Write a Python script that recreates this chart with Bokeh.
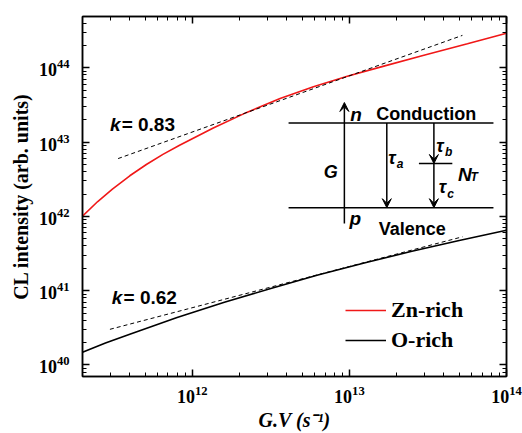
from bokeh.plotting import figure
from bokeh.models import (LogAxis, FixedTicker, Label, Arrow, VeeHead, Legend, LegendItem,
                          CustomJSTickFormatter)
from bokeh.embed import file_html
from bokeh.resources import INLINE

# ---- data ----
gv_zn = [2.0e11, 2.5e11, 3.1e11, 4.0e11, 5.1e11, 6.5e11, 8.3e11, 1.36e12, 2.22e12,
         3.62e12, 5.9e12, 9.7e12, 1.57e13, 2.98e13, 5.64e13, 1.0e14]
cl_zn = [1.01e42, 1.585e42, 2.32e42, 3.52e42, 4.99e42, 6.84e42, 9.08e42, 1.55e43, 2.51e43,
         3.85e43, 5.56e43, 7.69e43, 1.02e44, 1.47e44, 2.10e44, 2.91e44]
gv_o = [2.0e11, 2.8e11, 4.0e11, 8.0e11, 1.6e12, 3.2e12, 6.3e12, 1.26e13, 2.5e13, 5.0e13, 1.0e14]
cl_o = [1.48e40, 1.97e40, 2.60e40, 4.35e40, 6.98e40, 1.08e41, 1.63e41, 2.38e41, 3.39e41,
        4.74e41, 6.52e41]
fit_zn_x = [3.37e11, 5.24e13]
fit_zn_y = [6.0e42, 2.73e44]
fit_o_x = [2.99e11, 5.24e13]
fit_o_y = [3.02e40, 5.31e41]
series_names = ["Zn-rich", "O-rich"]
slope_texts = ["= 0.83", "= 0.62"]
x_ticks = [1e12, 1e13, 1e14]
y_ticks = [1e40, 1e41, 1e42, 1e43, 1e44]

SERIF = "Liberation Serif"
SANS = "Liberation Sans"

x_minor = [m * 10.0 ** k for k in range(11, 14) for m in range(2, 10)]
y_minor = [m * 10.0 ** k for k in range(39, 45) for m in range(2, 10)]

p = figure(width=522, height=433, x_axis_type="log", y_axis_type="log",
           x_range=(2e11, 1e14), y_range=(7e39, 4.9e44),
           output_backend="svg", toolbar_location=None,
           min_border_left=82, min_border_right=16, min_border_top=16, min_border_bottom=54)
p.grid.visible = False
p.outline_line_color = "black"
p.outline_line_width = 1.5

p.xaxis.ticker = FixedTicker(ticks=x_ticks, minor_ticks=x_minor)
p.yaxis.ticker = FixedTicker(ticks=y_ticks, minor_ticks=y_minor)

def style_axis(ax):
    ax.axis_line_width = 1.5
    ax.axis_line_color = "black"
    ax.major_tick_in = 7
    ax.major_tick_out = 0
    ax.minor_tick_in = 4
    ax.minor_tick_out = 0
    ax.major_tick_line_width = 1.5
    ax.minor_tick_line_width = 1
    ax.major_label_text_font = SERIF
    ax.major_label_text_font_style = "bold"
    ax.major_label_text_font_size = "18px"
    ax.major_label_text_color = "black"
    ax.axis_label_text_color = "black"
    ax.axis_label_text_font = SERIF

style_axis(p.xaxis[0])
style_axis(p.yaxis[0])
p.yaxis.major_label_standoff = 13
p.yaxis.axis_label = "CL intensity (arb. units)"
p.yaxis.axis_label_text_font_style = "bold"
p.yaxis.axis_label_text_font_size = "20px"
p.yaxis.axis_label_standoff = 4

p.xaxis.major_label_standoff = 9
p.xaxis.axis_label = "G.V (s⁻¹)"
p.xaxis.axis_label_text_font_style = "bold italic"
p.xaxis.axis_label_text_font_size = "20px"
p.xaxis.axis_label_standoff = 3

empty = CustomJSTickFormatter(code="return ''")
top = LogAxis(ticker=FixedTicker(ticks=x_ticks, minor_ticks=x_minor), formatter=empty)
right = LogAxis(ticker=FixedTicker(ticks=y_ticks, minor_ticks=y_minor), formatter=empty)
for ax in (top, right):
    style_axis(ax)
    ax.major_label_text_font_size = "1px"
    ax.major_label_standoff = 0
    ax.axis_label_standoff = 0
p.add_layout(top, "above")
p.add_layout(right, "right")

# ---- curves ----
r_zn = p.line(gv_zn, cl_zn, line_color="#f01818", line_width=1.6)
r_o = p.line(gv_o, cl_o, line_color="black", line_width=1.6)
p.line(fit_zn_x, fit_zn_y, line_color="black", line_width=1, line_dash="4 3")
p.line(fit_o_x, fit_o_y, line_color="black", line_width=1, line_dash="4 3")

legend = Legend(items=[LegendItem(label=series_names[0], renderers=[r_zn]),
                       LegendItem(label=series_names[1], renderers=[r_o])],
                location=(263, 23), padding=0, spacing=4, margin=0,
                glyph_width=41, glyph_height=20, label_height=20, label_standoff=5,
                label_text_font=SERIF, label_text_font_style="bold",
                label_text_font_size="22px", label_text_color="black",
                border_line_color=None, background_fill_alpha=0)
p.add_layout(legend)

# ---- slope labels ----
def lab(x, y, text, size="19px", style="bold", font=SANS, align="left", baseline="middle", **kw):
    p.add_layout(Label(x=x, y=y, text=text, text_font=font, text_font_style=style,
                       text_font_size=size, text_align=align, text_baseline=baseline,
                       text_color="black", **kw))

lab(2.99e11, 1.72e43, "k", style="bold italic")
lab(3.55e11, 1.72e43, slope_texts[0])
lab(3.07e11, 8.0e40, "k", style="bold italic")
lab(3.65e11, 8.0e40, slope_texts[1])

# ---- band diagram inset ----
lvl_x0, lvl_x1 = 4.1e12, 8.26e13
cond_y, val_y, trap_y = 1.81e43, 1.31e42, 5.15e42
p.segment(x0=[lvl_x0, lvl_x0, 2.77e13], y0=[cond_y, val_y, trap_y],
          x1=[lvl_x1, lvl_x1, 4.52e13], y1=[cond_y, val_y, trap_y],
          line_color="black", line_width=1.5)

def arrow(x, y0, y1):
    p.add_layout(Arrow(x_start=x, y_start=y0, x_end=x, y_end=y1, line_width=1.5,
                       line_color="black",
                       end=VeeHead(size=9, fill_color="black", line_color="black", line_width=1)))

arrow(9.29e12, 8.0e41, 3.41e43)
arrow(1.73e13, cond_y, val_y)
arrow(3.45e13, cond_y, trap_y)
arrow(3.45e13, trap_y, val_y)

lab(3.08e13, 2.38e43, "Conduction", size="18px", align="center", baseline="alphabetic")
lab(2.51e13, 6.71e41, "Valence", size="18px", align="center", baseline="alphabetic")
lab(1.014e13, 2.34e43, "n", size="19px", style="bold italic", baseline="alphabetic")
lab(1.0e13, 9.3e41, "p", size="19px", style="bold italic", baseline="alphabetic")
lab(7.62e12, 3.91e42, "G", size="18px", style="bold italic", align="center", baseline="alphabetic")
lab(1.77e13, 6.2e42, "τ", size="18px", style="bold italic", baseline="alphabetic")
lab(2.0e13, 5.05e42, "a", size="12px", style="bold italic", baseline="alphabetic")
lab(3.57e13, 8.85e42, "τ", size="18px", style="bold italic", baseline="alphabetic")
lab(4.06e13, 7.36e42, "b", size="12px", style="bold italic", baseline="alphabetic")
lab(3.71e13, 2.47e42, "τ", size="18px", style="bold italic", baseline="alphabetic")
lab(4.2e13, 2.01e42, "c", size="12px", style="bold italic", baseline="alphabetic")
lab(4.91e13, 3.71e42, "N", size="19px", style="bold italic", baseline="alphabetic")
lab(5.91e13, 3.4e42, "T", size="12px", style="bold italic", baseline="alphabetic")

open("out.html", "w").write(file_html(p, INLINE))
